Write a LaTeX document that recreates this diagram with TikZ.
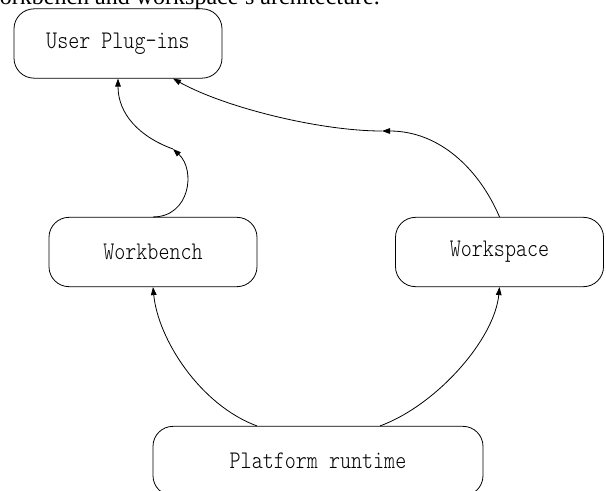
\documentclass[tikz,border=0pt]{standalone}
\usepackage{fontspec}
\setmainfont{Liberation Serif}
\newfontfamily\boxfont{lmmonolt10-regular.otf}[FakeStretch=0.83]
\usetikzlibrary{arrows.meta,calc}

\begin{document}
\begin{tikzpicture}[x=0.75pt,y=-0.75pt,
  block/.style={draw, line width=0.6pt, rounded corners=15pt,
    minimum width=156pt, minimum height=52pt, inner sep=0pt,
    font=\boxfont\fontsize{19pt}{21pt}\selectfont},
  link/.style={line width=0.6pt, -{Triangle[length=6pt,width=4.2pt]}}]

\useasboundingbox (0,0) rectangle (606,490);
\clip (0,0) rectangle (606,490);

% caption line of the figure
\node[anchor=base east, inner sep=0pt, font=\fontsize{18pt}{20pt}\selectfont]
  (cap) at (380,4.5) {Workbench and workspace's architecture.};

% blocks
\node[block] (plug) at (118,43.5) {User Plug-ins};
\node[block] (wb)   at (153,252)  {Workbench};
\node[block] (ws)   at (499.5,252) {Workspace};
\node[block, minimum width=247.5pt] (plat) at (318,461) {Platform runtime};

% intermediate points of the two upper connectors
\coordinate (m1) at (173,149);
\coordinate (m2) at (382,131);
\coordinate (pe) at ($(plug.south)+(55,0)$);
\coordinate (pl) at ($(plat.north)+(-61,0)$);
\coordinate (pr) at ($(plat.north)+(62,0)$);

% Workbench -> User Plug-ins
\draw[link] (wb.north) .. controls +(37,0) and +(23,21) .. (m1);
\draw[link] (m1) .. controls +(-33,-12) and +(0,36) .. (plug.south);

% Workspace -> User Plug-ins
\draw[link] (ws.north) .. controls +(-20,-47) and +(58,0) .. (m2);
\draw[link] (m2) .. controls +(-62,0) and +(52,29) .. (pe);

% Platform runtime -> Workbench / Workspace
\draw[link] (pl) .. controls +(-57,-21) and +(5,52) .. (wb.south);
\draw[link] (pr) .. controls +(57,-21) and +(-5,52) .. (ws.south);
\end{tikzpicture}
\end{document}
